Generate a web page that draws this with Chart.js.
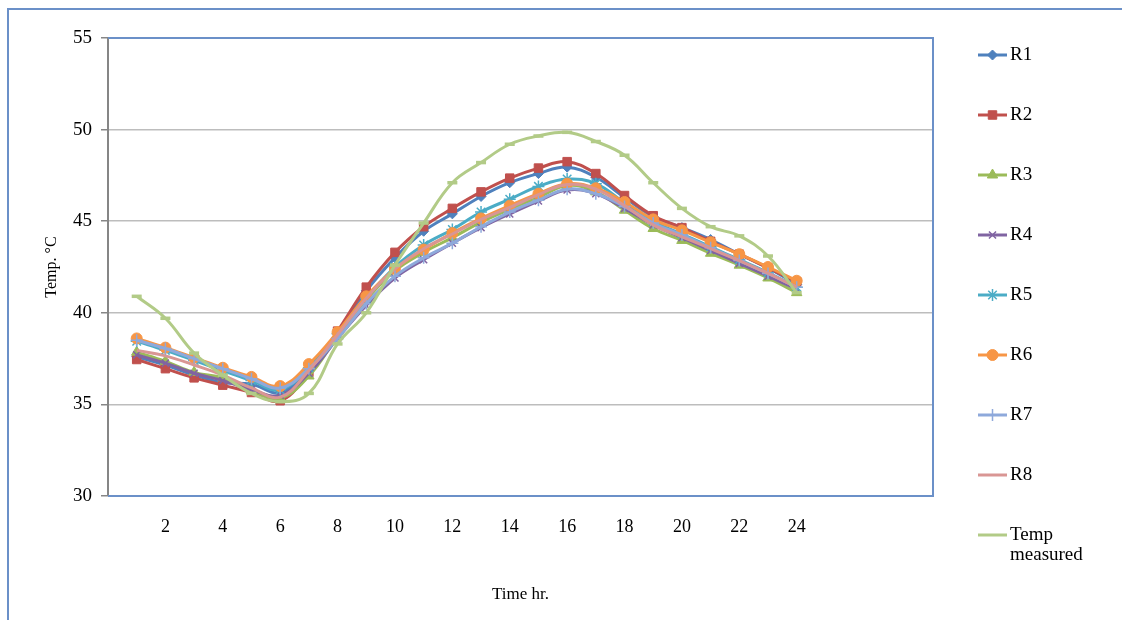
<!DOCTYPE html>
<html>
<head>
<meta charset="utf-8">
<title>Temp. vs time</title>
<script src="https://cdn.jsdelivr.net/npm/chart.js@4.4.1/dist/chart.umd.min.js"></script>
<style>
  body { margin: 0; background: #fff; }
  canvas { display: block; }
</style>
</head>
<body>
<canvas id="tempChart" width="1122" height="620"></canvas>
<script>
// hours of the day
const hours = [1, 2, 3, 4, 5, 6, 7, 8, 9, 10, 11, 12, 13, 14, 15, 16, 17, 18, 19, 20, 21, 22, 23, 24];
const xTickLabels = [2, 4, 6, 8, 10, 12, 14, 16, 18, 20, 22, 24];

// temperatures, deg C
const r1 = [37.6, 37.15, 36.6, 36.2, 36.1, 35.65, 36.85, 38.9, 41.2, 43.0, 44.45, 45.4, 46.35, 47.1, 47.6, 47.95, 47.4, 46.3, 45.25, 44.65, 44.0, 43.2, 42.45, 41.55];
const r2 = [37.45, 36.95, 36.45, 36.05, 35.65, 35.2, 36.75, 39.0, 41.4, 43.3, 44.7, 45.7, 46.6, 47.35, 47.9, 48.25, 47.6, 46.4, 45.3, 44.65, 43.9, 43.2, 42.45, 41.7];
const r3 = [37.85, 37.35, 36.75, 36.45, 35.75, 35.35, 36.55, 38.7, 40.7, 42.3, 43.3, 44.1, 44.95, 45.65, 46.3, 46.95, 46.6, 45.6, 44.6, 43.95, 43.25, 42.6, 41.9, 41.1];
const r4 = [37.7, 37.25, 36.7, 36.3, 35.8, 35.5, 36.7, 38.6, 40.4, 41.9, 42.9, 43.8, 44.65, 45.4, 46.1, 46.7, 46.5, 45.7, 44.8, 44.1, 43.4, 42.7, 42.0, 41.3];
const r5 = [38.45, 37.95, 37.4, 36.85, 36.3, 35.8, 37.0, 38.85, 40.8, 42.5, 43.7, 44.55, 45.5, 46.2, 46.9, 47.3, 47.05, 46.0, 45.0, 44.3, 43.6, 42.9, 42.2, 41.4];
const r6 = [38.6, 38.1, 37.55, 37.0, 36.5, 36.0, 37.2, 38.95, 40.9, 42.4, 43.45, 44.35, 45.15, 45.85, 46.5, 47.05, 46.8, 46.05, 45.1, 44.5, 43.85, 43.2, 42.5, 41.75];
const r7 = [38.5, 38.05, 37.5, 36.95, 36.4, 35.9, 36.95, 38.6, 40.5, 42.0, 43.0, 43.8, 44.7, 45.5, 46.15, 46.75, 46.5, 45.8, 44.9, 44.25, 43.55, 42.85, 42.15, 41.4];
const r8 = [37.95, 37.65, 37.15, 36.6, 35.9, 35.4, 36.85, 38.8, 40.8, 42.4, 43.5, 44.3, 45.1, 45.75, 46.45, 47.0, 46.75, 45.85, 44.8, 44.15, 43.5, 42.85, 42.15, 41.4];
const tempMeasured = [40.9, 39.7, 37.8, 36.6, 35.6, 35.15, 35.6, 38.3, 40.0, 42.6, 44.9, 47.1, 48.2, 49.2, 49.65, 49.85, 49.35, 48.6, 47.1, 45.7, 44.7, 44.2, 43.1, 41.1];

const seriesNames = ['R1', 'R2', 'R3', 'R4', 'R5', 'R6', 'R7', 'R8', 'Temp measured'];
const seriesValues = [r1, r2, r3, r4, r5, r6, r7, r8, tempMeasured];

const seriesLook = [
    { color: '#4F81BD', point: 'rectRot', radius: 5 },
    { color: '#C0504D', point: 'rect', radius: 6 },
    { color: '#9BBB59', point: 'triangle', radius: 6 },
    { color: '#8064A2', point: 'crossRot', radius: 5 },
    { color: '#4BACC6', point: 'star', radius: 6 },
    { color: '#F79646', point: 'circle', radius: 5.5 },
    { color: '#8EA9DB', point: 'cross', radius: 6 },
    { color: '#D99694', point: 'circle', radius: 0 },
    { color: '#B2CB87', point: 'line', radius: 5 }
];

const serif = '"Liberation Serif", "Times New Roman", serif';

// Function to build the datasets from the arrays above
function buildDatasets() {
    const n = seriesNames.length;
    return seriesNames.map((name, i) => {
        const look = seriesLook[i];
        const thin = look.point === 'cross' || look.point === 'crossRot' || look.point === 'star';
        return {
            label: name,
            data: hours.map((h, k) => ({ x: h, y: seriesValues[i][k] })),
            borderColor: look.color,
            backgroundColor: look.color,
            borderWidth: 3,
            tension: 0.4,
            pointStyle: look.point,
            pointRadius: look.radius,
            pointBackgroundColor: look.color,
            pointBorderColor: look.color,
            pointBorderWidth: look.point === 'line' ? 3.5 : (thin ? 1.5 : 1),
            order: n - 1 - i   // later series on top, as in the original
        };
    });
}

// plot frame and the outer border
const framePlugin = {
    id: 'frame',
    beforeDatasetsDraw(chart) {
        const { ctx, chartArea: a } = chart;
        ctx.save();
        ctx.strokeStyle = '#6B90C8';
        ctx.lineWidth = 2;
        ctx.beginPath();
        ctx.moveTo(a.left, a.top);
        ctx.lineTo(a.right, a.top);
        ctx.lineTo(a.right, a.bottom);
        ctx.lineTo(a.left, a.bottom);
        ctx.stroke();
        ctx.beginPath();
        ctx.moveTo(8, chart.height);
        ctx.lineTo(8, 9);
        ctx.lineTo(chart.width, 9);
        ctx.stroke();
        ctx.restore();
    }
};

// legend on the right: line sample with marker, widely spaced
const sideLegend = {
    id: 'sideLegend',
    afterDraw(chart) {
        const { ctx, chartArea: a } = chart;
        const x0 = a.right + 45;
        const y0 = a.top + 17;
        const step = 60;
        ctx.save();
        chart.data.datasets.forEach((ds, i) => {
            const y = y0 + i * step;
            ctx.strokeStyle = ds.borderColor;
            ctx.lineWidth = 3;
            ctx.beginPath();
            ctx.moveTo(x0, y);
            ctx.lineTo(x0 + 29, y);
            ctx.stroke();
            if (ds.pointRadius > 0 && ds.pointStyle !== 'line' && Chart.helpers && Chart.helpers.drawPoint) {
                ctx.fillStyle = ds.pointBackgroundColor;
                ctx.strokeStyle = ds.pointBorderColor;
                ctx.lineWidth = ds.pointBorderWidth;
                Chart.helpers.drawPoint(ctx, {
                    pointStyle: ds.pointStyle,
                    radius: ds.pointRadius,
                    rotation: 0,
                    borderWidth: ds.pointBorderWidth
                }, x0 + 14.5, y);
            }
            ctx.fillStyle = '#000';
            ctx.font = '19px ' + serif;
            ctx.textAlign = 'left';
            ctx.textBaseline = 'middle';
            // wrap long labels the way the original legend does
            const words = ds.label.split(' ');
            const lines = [];
            words.forEach(w => {
                const last = lines[lines.length - 1];
                if (last && ctx.measureText(last + ' ' + w).width < 90) {
                    lines[lines.length - 1] = last + ' ' + w;
                } else {
                    lines.push(w);
                }
            });
            lines.forEach((t, k) => ctx.fillText(t, x0 + 32, y + k * 20));
        });
        ctx.restore();
    }
};

const ctx = document.getElementById('tempChart').getContext('2d');
const tempChart = new Chart(ctx, {
    type: 'line',
    data: { datasets: buildDatasets() },
    options: {
        responsive: false,
        animation: false,
        devicePixelRatio: 1,
        layout: { padding: { left: 8, top: 38, right: 189, bottom: 0 } },
        plugins: {
            legend: { display: false },
            tooltip: { enabled: false }
        },
        scales: {
            x: {
                type: 'linear',
                min: 0,
                max: 28.75,
                afterBuildTicks: axis => { axis.ticks = xTickLabels.map(v => ({ value: v })); },
                afterFit: axis => { axis.height = 124; },
                grid: { display: false },
                border: { display: false },
                ticks: {
                    color: '#000',
                    font: { family: serif, size: 18 },
                    padding: 12,
                    maxRotation: 0
                },
                title: {
                    display: true,
                    text: 'Time hr.',
                    color: '#000',
                    font: { family: serif, size: 17 },
                    padding: { top: 0, bottom: 15 }
                }
            },
            y: {
                min: 30,
                max: 55,
                afterFit: axis => { axis.width = 100; },
                ticks: {
                    stepSize: 5,
                    color: '#000',
                    font: { family: serif, size: 19 },
                    padding: 9
                },
                grid: {
                    color: c => (c.tick && (c.tick.value === 30 || c.tick.value === 55)) ? 'rgba(0,0,0,0)' : '#BDBDBD',
                    lineWidth: 1.5,
                    tickColor: '#868686',
                    tickLength: 7,
                    tickWidth: 1.5
                },
                border: { display: true, color: '#868686', width: 2 },
                title: {
                    display: true,
                    text: 'Temp. °C',
                    color: '#000',
                    font: { family: serif, size: 16 },
                    padding: { top: 34, bottom: 0 }
                }
            }
        }
    },
    plugins: [framePlugin, sideLegend]
});
</script>
</body>
</html>
